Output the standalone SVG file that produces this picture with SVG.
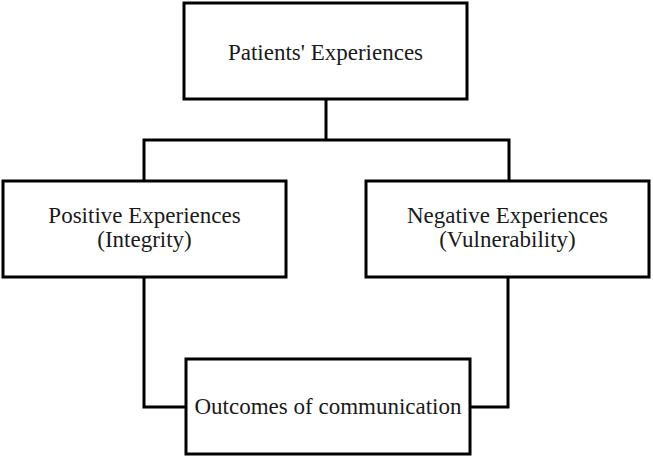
<svg xmlns="http://www.w3.org/2000/svg" width="653" height="460" viewBox="0 0 653 460">
<style>
.box{fill:#fff;stroke:#000;stroke-width:3}
.c{fill:none;stroke:#000;stroke-width:3}
.t{font-family:'Liberation Serif','Times New Roman',serif;font-size:23px;fill:#1a1a1a;text-anchor:middle}
</style>
<rect width="653" height="460" fill="#fff"/>
<g id="connectors">
<path class="c" d="M326 99 V140 M144 181 V140 H509 V181"/>
<path class="c" d="M144 277 V407 H186"/>
<path class="c" d="M508 277 V407 H470"/>
</g>
<g id="patients">
<rect class="box" x="184" y="3" width="283" height="96"/>
<text class="t" x="325.5" y="60">Patients' Experiences</text>
</g>
<g id="positive">
<rect class="box" x="3" y="181" width="283" height="96"/>
<text class="t" x="144.5" y="223">Positive Experiences</text>
<text class="t" x="144.5" y="247">(Integrity)</text>
</g>
<g id="negative">
<rect class="box" x="366" y="181" width="283" height="96"/>
<text class="t" x="507.5" y="223">Negative Experiences</text>
<text class="t" x="507.5" y="247">(Vulnerability)</text>
</g>
<g id="outcomes">
<rect class="box" x="186" y="359" width="284" height="95"/>
<text class="t" x="328" y="414">Outcomes of communication</text>
</g>
</svg>
